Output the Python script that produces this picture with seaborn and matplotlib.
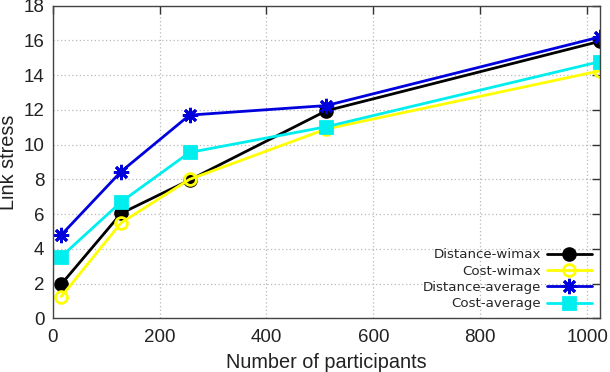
import pandas as pd
import matplotlib
matplotlib.use("Agg")
import matplotlib.pyplot as plt
import seaborn as sns

# values
participants = [16, 128, 256, 512, 1024]
distance_wimax = [1.96, 6.04, 7.96, 11.95, 15.95]
cost_wimax = [1.25, 5.5, 8.0, 10.9, 14.25]
distance_average = [4.8, 8.45, 11.7, 12.25, 16.2]
cost_average = [3.55, 6.7, 9.55, 11.03, 14.78]

series = {
    "Distance-wimax": distance_wimax,
    "Cost-wimax": cost_wimax,
    "Distance-average": distance_average,
    "Cost-average": cost_average,
}
colors = {"Distance-wimax": "black", "Cost-wimax": "#ffff00",
          "Distance-average": "#0000dd", "Cost-average": "#00eeee"}
markers = {"Distance-wimax": "o", "Cost-wimax": "o",
           "Distance-average": (8, 2, 0), "Cost-average": "s"}

rows = []
for name, vals in series.items():
    for x, y in zip(participants, vals):
        rows.append({"participants": x, "stress": y, "series": name})
df = pd.DataFrame(rows)

sns.set_style("white")
plt.rcParams["font.family"] = ["Liberation Sans", "DejaVu Sans"]

fig = plt.figure(figsize=(6.1, 3.72), dpi=100)
ax = fig.add_axes([0.0864, 0.1444, 0.8972, 0.8403])

for name in series:
    sub = df[df["series"] == name]
    face = "none" if name == "Cost-wimax" else colors[name]
    size = 11 if name == "Distance-average" else 8.5
    sns.lineplot(data=sub, x="participants", y="stress", ax=ax, label=name,
                 color=colors[name], marker=markers[name], markersize=size,
                 markerfacecolor=face, markeredgecolor=colors[name],
                 markeredgewidth=2, linewidth=2)

ax.set_xlim(0, 1024)
ax.set_ylim(0, 18)
ax.set_xticks([0, 200, 400, 600, 800, 1000])
ax.set_yticks(range(0, 19, 2))
ax.grid(True, color="#b8b8b8", linestyle=(0, (1, 2)), linewidth=0.9)
ax.tick_params(direction="in", length=6, width=1, top=True, right=True,
               labelsize=13.5, colors="#333333", labelcolor="#222222")
ax.tick_params(axis="x", pad=8)
ax.tick_params(axis="y", pad=6)
for sp in ax.spines.values():
    sp.set_color("#444444")
    sp.set_linewidth(1)
ax.set_xlabel("Number of participants", fontsize=14.3, labelpad=5, color="#222222")
ax.set_ylabel("Link stress", fontsize=14.3, labelpad=4, color="#222222")

leg = ax.legend(loc="lower right", markerfirst=False, frameon=False,
                prop={"family": "DejaVu Sans", "size": 9.6},
                handlelength=3.4, labelspacing=0.25, borderaxespad=0.5,
                handletextpad=0.4, borderpad=0.1)

fig.savefig("out.png", dpi=100)
